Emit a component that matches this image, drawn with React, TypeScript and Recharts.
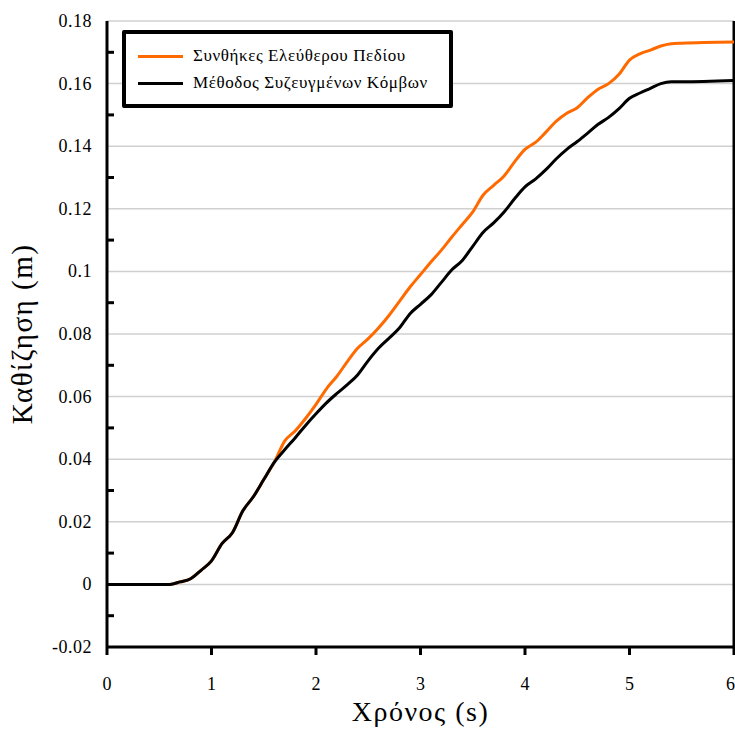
import React from "react";
import {
  LineChart,
  Line,
  XAxis,
  YAxis,
  CartesianGrid,
  ReferenceLine,
} from "recharts";

const time = [
  0, 0.6, 0.7, 0.8, 0.9, 1.0, 1.1, 1.2, 1.3, 1.4, 1.5, 1.6, 1.7, 1.8, 1.9, 2.0,
  2.1, 2.2, 2.3, 2.4, 2.5, 2.6, 2.7, 2.8, 2.9, 3.0, 3.1, 3.2, 3.3, 3.4, 3.5,
  3.6, 3.7, 3.8, 3.9, 4.0, 4.1, 4.2, 4.3, 4.4, 4.5, 4.6, 4.7, 4.8, 4.9, 5.0,
  5.1, 5.2, 5.3, 5.4, 5.5, 6.0,
];

const freeField = [
  0, 0, 0.0008, 0.0018, 0.0045, 0.0075, 0.013, 0.0165, 0.0235, 0.028, 0.0335,
  0.039, 0.0458, 0.049, 0.053, 0.0575, 0.0625, 0.0665, 0.0712, 0.0755, 0.0785,
  0.082, 0.086, 0.0905, 0.095, 0.099, 0.103, 0.1068, 0.111, 0.115, 0.119,
  0.1244, 0.1275, 0.1305, 0.135, 0.139, 0.1412, 0.1445, 0.148, 0.1505, 0.1523,
  0.1555, 0.1582, 0.16, 0.163, 0.1675, 0.1695, 0.1707, 0.172, 0.1727, 0.1729,
  0.1733,
];

const coupledNodes = [
  0, 0, 0.0008, 0.0018, 0.0045, 0.0075, 0.013, 0.0165, 0.0235, 0.028, 0.0335,
  0.039, 0.043, 0.0468, 0.0508, 0.0545, 0.058, 0.061, 0.0638, 0.067, 0.0715,
  0.0755, 0.0787, 0.082, 0.0865, 0.0895, 0.0925, 0.0965, 0.1005, 0.1035, 0.108,
  0.1125, 0.1155, 0.119, 0.1232, 0.127, 0.1295, 0.1325, 0.136, 0.139, 0.1415,
  0.1442, 0.147, 0.1492, 0.152, 0.1553, 0.157, 0.1585, 0.16, 0.1606, 0.1606,
  0.161,
];

const seriesNames = ["Συνθήκες Ελεύθερου Πεδίου", "Μέθοδος Συζευγμένων Κόμβων"];
const seriesColors = ["#ff6a00", "#000000"];

const xTicks = [0, 1, 2, 3, 4, 5, 6];
const yMajor = [-0.02, 0, 0.02, 0.04, 0.06, 0.08, 0.1, 0.12, 0.14, 0.16, 0.18];
const yAll = [
  -0.02, -0.01, 0, 0.01, 0.02, 0.03, 0.04, 0.05, 0.06, 0.07, 0.08, 0.09, 0.1,
  0.11, 0.12, 0.13, 0.14, 0.15, 0.16, 0.17, 0.18,
];
const gridValues = [0, 0.02, 0.04, 0.06, 0.08, 0.1, 0.12, 0.14, 0.16, 0.18];

const data = time.map((t, i) => ({
  t,
  a: freeField[i],
  b: coupledNodes[i],
}));

const font = "'Liberation Serif', 'DejaVu Serif', serif";
const LEFT = 107;

function fmt(v: number) {
  if (v === 0) return "0";
  return String(Math.round(v * 100) / 100);
}

// major values get a label, the odd hundredths only a short inward tick
function YTick(props: any) {
  const { x, y, payload } = props;
  const v = payload.value;
  const major = yMajor.some((m) => Math.abs(m - v) < 1e-9);
  if (!major) {
    return (
      <line x1={LEFT} x2={LEFT + 7} y1={y} y2={y} stroke="#000" strokeWidth={3} />
    );
  }
  return (
    <text
      x={x}
      y={y}
      dy={6}
      textAnchor="end"
      fontFamily={font}
      fontSize={18}
      letterSpacing={0.5}
      fill="#000"
    >
      {fmt(v)}
    </text>
  );
}

export default function App() {
  return (
    <div
      style={{
        position: "absolute",
        left: 0,
        top: 0,
        width: 735,
        height: 729,
        background: "#fff",
      }}
    >
      <LineChart
        width={735}
        height={729}
        data={data}
        margin={{ top: 21, right: 1, bottom: 0, left: 0 }}
      >
        <CartesianGrid
          horizontal
          vertical={false}
          stroke="#d0d0d0"
          strokeWidth={1.5}
          horizontalValues={gridValues}
        />
        <XAxis
          dataKey="t"
          type="number"
          domain={[0, 6]}
          ticks={xTicks}
          height={82}
          stroke="#000"
          strokeWidth={3}
          tickSize={8}
          tickMargin={22}
          tick={{ fontFamily: font, fontSize: 18, fill: "#000" }}
          label={{
            value: "Χρόνος (s)",
            position: "insideBottom",
            offset: 8,
            fontFamily: font,
            fontSize: 28,
            letterSpacing: 1.5,
            fill: "#000",
          }}
        />
        <YAxis
          type="number"
          domain={[-0.02, 0.18]}
          ticks={yAll}
          interval={0}
          width={LEFT}
          stroke="#000"
          strokeWidth={3}
          tickLine={false}
          tickSize={0}
          tickMargin={15}
          tick={<YTick />}
          label={{
            value: "Καθίζηση (m)",
            angle: -90,
            position: "insideLeft",
            offset: 22,
            fontFamily: font,
            fontSize: 29,
            letterSpacing: 1.5,
            fill: "#000",
            style: { textAnchor: "middle" },
          }}
        />
        <ReferenceLine x={6} stroke="#000" strokeWidth={3} />
        <Line
          dataKey="a"
          name={seriesNames[0]}
          type="monotone"
          stroke={seriesColors[0]}
          strokeWidth={3}
          dot={false}
          isAnimationActive={false}
        />
        <Line
          dataKey="b"
          name={seriesNames[1]}
          type="monotone"
          stroke={seriesColors[1]}
          strokeWidth={3}
          dot={false}
          isAnimationActive={false}
        />
      </LineChart>
      <div
        style={{
          position: "absolute",
          left: 122,
          top: 30,
          width: 323,
          height: 70,
          border: "4px solid #000",
          borderRadius: 2,
          background: "#fff",
          fontFamily: font,
          fontSize: 17,
          letterSpacing: 0.6,
          boxSizing: "content-box",
        }}
      >
        {seriesNames.map((n, i) => (
          <div
            key={n}
            style={{
              position: "absolute",
              left: 12,
              top: 12 + i * 27,
              height: 20,
              display: "flex",
              alignItems: "center",
              whiteSpace: "nowrap",
            }}
          >
            <span
              style={{
                display: "inline-block",
                width: 45,
                height: 3,
                background: seriesColors[i],
                marginRight: 10,
              }}
            />
            <span>{n}</span>
          </div>
        ))}
      </div>
    </div>
  );
}
